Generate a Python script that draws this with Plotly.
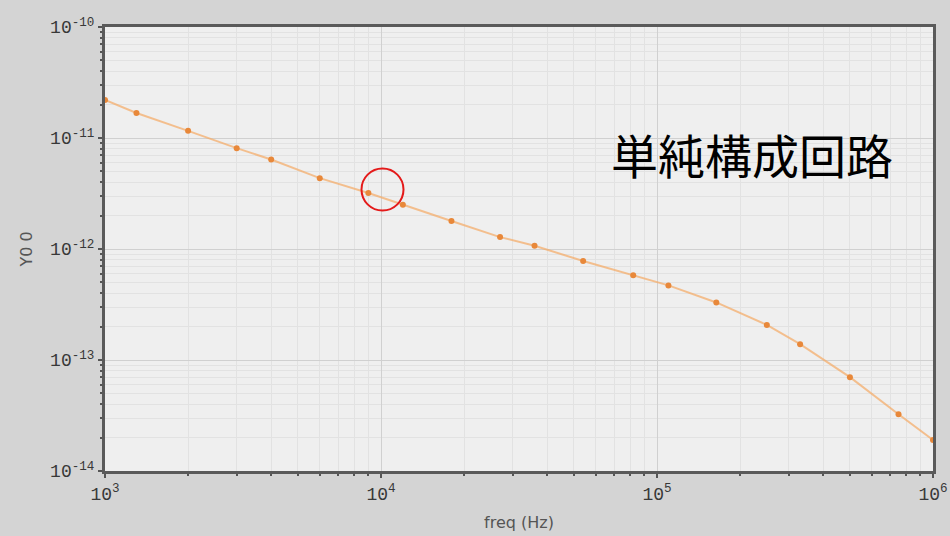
import plotly.graph_objects as go

# Sweep data: admittance magnitude vs frequency
freq_hz = [1000, 1300, 2000, 3000, 4000, 6000, 9000, 12000, 18000, 27000,
           36000, 54000, 82000, 110000, 164000, 250000, 330000, 500000,
           750000, 1000000]
y0_vals = [2.20e-11, 1.68e-11, 1.16e-11, 8.1e-12, 6.4e-12, 4.35e-12,
           3.2e-12, 2.5e-12, 1.79e-12, 1.28e-12, 1.07e-12, 7.8e-13,
           5.8e-13, 4.7e-13, 3.3e-13, 2.07e-13, 1.39e-13, 7.0e-14,
           3.25e-14, 1.9e-14]

x_tick_vals = [1e3, 1e4, 1e5, 1e6]
x_tick_text = ["10<sup>3</sup>", "10<sup>4</sup>", "10<sup>5</sup>", "10<sup>6</sup>"]
y_tick_vals = [1e-14, 1e-13, 1e-12, 1e-11, 1e-10]
y_tick_text = ["10<sup>-14</sup>", "10<sup>-13</sup>", "10<sup>-12</sup>",
               "10<sup>-11</sup>", "10<sup>-10</sup>"]

W, H = 950, 536
ML, MR, MT, MB = 105, 17, 27, 65
PW, PH = W - ML - MR, H - MT - MB

fig = go.Figure()
fig.add_trace(go.Scatter(
    x=freq_hz, y=y0_vals, mode="lines+markers",
    line=dict(color="rgba(245,170,100,0.7)", width=2),
    marker=dict(color="#e8883a", size=6),
    hoverinfo="x+y", showlegend=False,
))

tick_font = dict(family="Liberation Mono", size=18, color="#383838")
axis_common = dict(
    type="log", showline=True, linecolor="#5a5a5a", linewidth=3, mirror=True,
    showgrid=True, gridcolor="#d0d0d0", gridwidth=1,
    ticks="outside", ticklen=4, tickcolor="#555555", tickwidth=2,
    tickfont=tick_font, zeroline=False, automargin=False,
    minor=dict(dtick="D1", showgrid=True, gridcolor="#e2e2e2", gridwidth=1,
               ticks="outside", ticklen=2, tickcolor="#555555", tickwidth=2),
)

title_font = dict(family="DejaVu Sans", size=16, color="#555555")
fig.update_xaxes(
    range=[3, 6], tickvals=x_tick_vals, ticktext=x_tick_text,
    title=dict(text="freq (Hz)", font=title_font, standoff=14),
    **axis_common,
)
fig.update_yaxes(
    range=[-14, -10], tickvals=y_tick_vals, ticktext=y_tick_text,
    title=dict(text="Y0 0", font=title_font, standoff=14),
    **axis_common,
)

# Highlight ring around the 10 kHz region
cx, cy, r = 382.5, 189.5, 21
fig.add_shape(
    type="circle", xref="paper", yref="paper",
    x0=(cx - r - ML) / PW, x1=(cx + r - ML) / PW,
    y0=(H - MB - (cy + r)) / PH, y1=(H - MB - (cy - r)) / PH,
    line=dict(color="#e41a1a", width=2),
)

fig.add_annotation(
    text="単純構成回路", xref="paper", yref="paper",
    x=(752 - ML) / PW, y=(H - MB - 153) / PH,
    xanchor="center", yanchor="middle", showarrow=False,
    font=dict(family="Noto Sans CJK JP", size=47, color="#000000"),
)

fig.update_layout(
    width=W, height=H,
    margin=dict(l=ML, r=MR, t=MT, b=MB),
    paper_bgcolor="#d4d4d4",
    plot_bgcolor="#efefef",
)

fig.write_html("out.html")
